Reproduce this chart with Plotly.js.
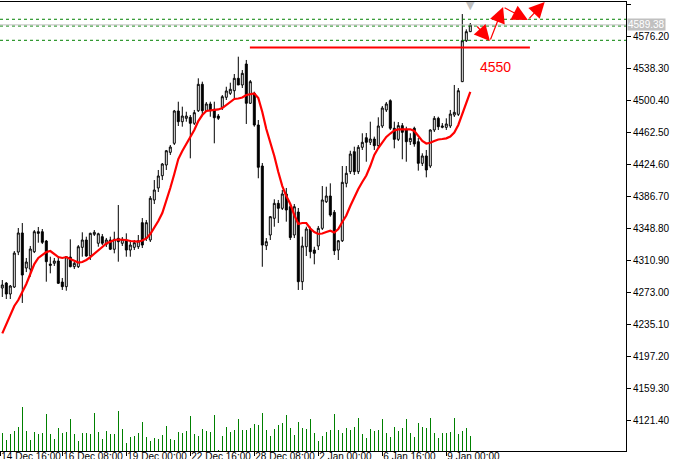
<!DOCTYPE html>
<html>
<head>
<meta charset="utf-8">
<script src="https://cdn.plot.ly/plotly-3.0.1.min.js"></script>
<style>html,body{margin:0;padding:0;background:#fff;}#chart{width:679px;height:459px;}</style>
</head>
<body>
<div id="chart"></div>
<script>
const openP = [
4277.7,4283.6,4270.6,4278.9,4320.3,4342.9,4301.4,4300.2,4320.7,4344.4,
4344.4,4333.4,4306.1,4307.0,4309.7,4284.8,4279.3,4314.4,4303.0,4303.0,
4325.9,4334.6,4316.0,4341.3,4330.7,4338.5,4329.5,4334.6,4323.6,4336.6,
4330.7,4334.6,4322.7,4325.9,4326.6,4355.1,4336.6,4334.6,4382.0,4396.2,
4410.7,4423.4,4438.4,4449.1,4487.4,4474.7,4478.7,4479.9,4472.8,4487.7,
4519.0,4487.7,4495.7,4489.4,4481.4,4491.8,4503.6,4508.3,4511.4,4526.1,
4518.2,4543.0,4496.5,4508.3,4470.8,4422.2,4327.8,4340.5,4360.3,4378.0,
4372.1,4389.1,4374.0,4340.5,4367.7,4285.2,4326.6,4347.6,4322.7,4327.5,
4348.4,4379.9,4386.7,4367.4,4322.7,4333.7,4401.7,4415.5,4439.2,4415.5,
4444.4,4455.7,4450.3,4454.2,4446.3,4469.6,4488.6,4499.6,4466.9,4453.8,
4470.0,4464.9,4451.0,4466.9,4451.0,4425.4,4434.1,4422.2,4464.9,4478.7,
4468.0,4468.0,4469.6,4482.6,4483.4,4522.1,4570.6,4581.3];
const highP = [
4287.2,4284.8,4281.3,4321.5,4348.8,4354.7,4313.3,4327.5,4346.4,4350.0,
4347.6,4334.6,4314.8,4313.3,4315.6,4289.6,4315.6,4335.4,4308.5,4328.6,
4343.7,4338.5,4343.2,4346.4,4343.2,4341.7,4337.0,4338.5,4344.4,4376.0,
4338.1,4342.5,4334.6,4334.6,4340.5,4360.6,4358.3,4386.7,4405.6,4417.5,
4425.8,4441.2,4447.1,4488.6,4498.4,4492.5,4486.5,4482.6,4488.6,4526.1,
4522.1,4498.0,4498.4,4498.4,4483.8,4506.3,4516.1,4520.9,4531.2,4551.7,
4535.9,4547.8,4524.1,4510.2,4476.7,4425.8,4336.9,4363.0,4382.8,4382.0,
4393.8,4396.2,4377.2,4377.2,4372.5,4338.5,4350.3,4350.3,4326.6,4351.2,
4398.5,4397.7,4401.7,4370.1,4334.6,4422.2,4422.2,4440.3,4445.1,4447.1,
4461.0,4461.3,4474.7,4457.0,4479.9,4493.3,4498.0,4501.2,4474.7,4474.3,
4473.1,4468.8,4461.0,4468.8,4455.4,4437.3,4441.2,4465.7,4481.4,4480.6,
4473.1,4478.7,4488.6,4518.2,4514.6,4602.2,4584.1,4591.6];
const lowP = [
4267.1,4264.7,4264.7,4277.7,4316.7,4260.0,4296.6,4291.1,4319.1,4331.4,
4329.8,4285.2,4295.1,4303.8,4282.5,4275.4,4274.5,4302.2,4300.2,4301.4,
4314.8,4314.8,4310.9,4339.3,4326.6,4328.6,4326.3,4322.7,4318.8,4308.9,
4327.5,4314.8,4314.8,4322.7,4323.9,4325.1,4333.4,4332.2,4377.2,4391.4,
4405.6,4417.5,4435.3,4447.1,4469.6,4468.8,4474.7,4431.3,4470.8,4486.2,
4481.4,4486.2,4480.6,4449.1,4476.7,4488.6,4500.4,4506.3,4502.4,4518.2,
4514.6,4472.0,4495.7,4468.8,4407.7,4302.9,4322.7,4334.6,4350.3,4354.7,
4370.1,4356.3,4334.6,4336.9,4275.4,4275.4,4315.6,4312.9,4305.8,4322.7,
4346.4,4378.4,4362.2,4316.8,4310.9,4332.2,4397.0,4412.7,4411.6,4412.7,
4441.2,4427.3,4447.1,4441.2,4443.5,4467.2,4486.2,4464.9,4443.2,4451.8,
4430.2,4427.3,4447.1,4445.1,4416.7,4422.2,4408.8,4419.9,4462.5,4464.9,
4466.9,4464.9,4467.2,4480.3,4481.4,4521.7,4569.1,4580.9];
const closeP = [
4281.3,4270.6,4280.1,4319.1,4342.9,4293.1,4308.5,4323.9,4344.4,4342.5,
4331.8,4308.9,4304.6,4309.7,4283.3,4279.3,4314.8,4303.0,4307.0,4326.6,
4334.6,4315.6,4342.5,4343.7,4342.0,4330.7,4334.6,4323.6,4335.4,4332.6,
4335.4,4322.7,4328.6,4331.4,4333.7,4328.6,4355.1,4384.0,4393.8,4410.4,
4424.6,4440.3,4444.7,4487.4,4474.7,4481.4,4481.4,4472.8,4485.4,4519.0,
4487.7,4495.7,4487.7,4479.4,4478.7,4504.3,4511.1,4513.1,4526.1,4518.2,
4532.0,4496.5,4522.1,4470.8,4420.7,4328.6,4332.6,4362.2,4378.0,4372.1,
4389.1,4370.1,4337.5,4374.0,4285.2,4327.5,4347.6,4320.7,4318.8,4348.4,
4382.0,4386.7,4364.2,4321.9,4333.7,4402.9,4413.6,4436.4,4415.5,4444.4,
4450.3,4450.3,4454.2,4446.3,4469.6,4490.9,4495.7,4466.9,4453.8,4470.0,
4462.1,4451.0,4455.0,4448.3,4425.4,4434.1,4417.5,4464.9,4478.7,4468.8,
4469.6,4472.0,4483.8,4485.8,4511.4,4570.6,4581.3,4589.38];
const maP = [
4224.0,4235.0,4246.0,4256.4,4263.5,4273.0,4282.5,4294.3,4306.1,4313.3,
4316.8,4320.3,4321.5,4318.0,4314.4,4313.3,4314.4,4312.1,4309.7,4307.9,
4308.5,4310.9,4314.4,4318.0,4322.7,4326.3,4330.4,4332.8,4334.6,4335.2,
4335.2,4334.6,4333.4,4332.6,4332.6,4334.0,4336.4,4341.7,4348.8,4357.1,
4366.6,4380.8,4396.2,4412.8,4430.5,4440.0,4448.3,4455.4,4464.9,4475.5,
4482.6,4487.4,4488.0,4488.6,4489.2,4490.9,4494.5,4498.0,4501.6,4502.2,
4503.4,4506.3,4507.5,4508.1,4502.8,4486.2,4466.1,4450.6,4434.1,4415.1,
4398.5,4386.7,4377.2,4364.2,4353.5,4354.7,4354.7,4348.2,4344.0,4341.7,
4342.3,4344.0,4345.6,4343.5,4347.6,4355.9,4363.6,4374.9,4385.5,4395.0,
4403.3,4411.0,4422.2,4435.3,4443.5,4450.6,4456.6,4460.7,4464.3,4465.5,
4465.7,4465.7,4465.7,4463.7,4457.8,4451.8,4448.9,4449.8,4451.8,4453.6,
4454.2,4455.0,4457.2,4461.9,4470.8,4483.8,4496.8,4509.9];
const volume = [
5400,3300,5100,6000,7200,13200,6000,3300,5700,5100,
5400,11100,5100,3600,6900,5400,5700,9600,5100,3000,
5400,5400,5100,11400,5700,3600,6000,5100,5100,12000,
6600,2400,4200,4500,5400,8700,4200,3000,3900,3600,
4800,7500,3600,3300,5700,5400,6000,10500,5100,4500,
6600,6000,5700,10800,300,4500,7200,5700,6300,9600,
6300,6300,6900,8100,7800,11400,6300,4500,6600,7800,
8400,10800,6900,4800,8700,6900,6600,9600,5400,3000,
4500,5700,6300,11100,6300,5400,6900,6300,7200,9900,
5100,3900,6600,6000,6300,9600,5400,4200,7200,6000,
6900,9600,5400,4200,8400,7200,6900,9900,5400,3900,
5400,5400,5700,9900,5100,6000,6900,4500];
const yTickVals = [4614.10,4576.20,4538.30,4500.40,4462.50,4424.60,4386.70,4348.80,4310.90,4273.00,4235.10,4197.20,4159.30,4121.40];
const xTickIdx = [-0.5,15,31,47,63,79,95,111];
const xTickLabels = ["14 Dec 16:00","16 Dec 08:00","19 Dec 00:00","22 Dec 16:00","28 Dec 08:00","2 Jan 00:00","6 Jan 16:00","9 Jan 00:00"];
const greenLevels = [4596.0, 4588.0, 4571.1];
const bidPrice = 4589.38;
const redLevel = 4562.6, redLevelFrom = 61.9, redLevelTo = 131.9;
const levelLabel = "4550", levelLabelAt = [123.4, 4539.5];
const pathIdx = [118.4, 121.9, 125.2, 131.4, 135.6];
const pathPrice = [4589.2, 4570.3, 4610.5, 4595.2, 4616.5];

const idx = closeP.map((_, i) => i);
const FONT = "Liberation Sans, Arial, sans-serif";

const traces = [
  {type:'bar', x: idx, y: volume, yaxis:'y2', width:0.25, marker:{color:'#008000', line:{width:0}}, hoverinfo:'skip'},
  {type:'candlestick', x: idx, open: openP, high: highP, low: lowP, close: closeP,
   increasing:{line:{color:'#000', width:1}, fillcolor:'#fff'},
   decreasing:{line:{color:'#000', width:1}, fillcolor:'#000'},
   whiskerwidth:0, hoverinfo:'skip'},
  {type:'scatter', mode:'lines', x: idx, y: maP, line:{color:'#ff0000', width:2.2}, hoverinfo:'skip'}
];

const shapes = greenLevels.map(v => ({type:'line', xref:'paper', x0:0, x1:1, yref:'y', y0:v, y1:v, line:{color:'#008000', width:1, dash:'3px,3px'}}));
shapes.push({type:'line', xref:'paper', x0:0, x1:1, yref:'y', y0:bidPrice, y1:bidPrice, line:{color:'#c0c0c0', width:1}});
shapes.push({type:'line', xref:'x', x0:redLevelFrom, x1:redLevelTo, yref:'y', y0:redLevel, y1:redLevel, line:{color:'#ff0000', width:2}});

const annotations = [
  {xref:'paper', x:1, xanchor:'left', yref:'y', y:bidPrice, text:bidPrice.toFixed(2), showarrow:false,
   bgcolor:'#c0c0c0', font:{color:'#fff', size:10, family:FONT}, borderpad:0, xshift:1},
  {xref:'x', yref:'y', x:levelLabelAt[0], y:levelLabelAt[1], text:levelLabel, showarrow:false,
   font:{color:'#ff0000', size:14, family:FONT}},
  {xref:'x', yref:'y', x:117, y:4612.5, text:'▼', showarrow:false, font:{color:'#c0c0c0', size:11, family:'DejaVu Sans'}}
];
for (let k = 1; k < pathIdx.length; k++) {
  annotations.push({xref:'x', yref:'y', axref:'x', ayref:'y', x:pathIdx[k], y:pathPrice[k], ax:pathIdx[k-1], ay:pathPrice[k-1],
    text:'', showarrow:true, arrowhead:2, arrowsize:2.6, arrowwidth:1.2, arrowcolor:'#ff0000', standoff:0, startstandoff:0});
}

const layout = {
  width:679, height:459,
  margin:{l:0, r:53, t:2, b:8, pad:0},
  paper_bgcolor:'#fff', plot_bgcolor:'#fff',
  showlegend:false, hovermode:false,
  font:{family:FONT, size:10, color:'#000'},
  xaxis:{type:'linear', range:[-0.575, 155.925], rangeslider:{visible:false},
    showgrid:false, zeroline:false, showline:true, mirror:true, linecolor:'#000', linewidth:1,
    tickmode:'array', tickvals:xTickIdx, ticktext:xTickLabels, ticks:'outside', ticklen:4, tickcolor:'#000',
    tickangle:0, ticklabelposition:'outside right', ticklabelstandoff:-4, ticklabeloverflow:'allow',
    tickfont:{size:10, family:FONT}, fixedrange:true},
  yaxis:{side:'right', range:[4084.68, 4616.47], showgrid:false, zeroline:false,
    showline:true, linecolor:'#000', linewidth:1, mirror:false,
    tickmode:'array', tickvals:yTickVals, ticktext:yTickVals.map(v => v.toFixed(2)),
    ticks:'outside', ticklen:4, tickcolor:'#000', tickfont:{size:10, family:FONT}, fixedrange:true},
  yaxis2:{overlaying:'y', side:'right', range:[0, 134700], visible:false, fixedrange:true},
  bargap:0,
  shapes: shapes,
  annotations: annotations
};

Plotly.newPlot('chart', traces, layout, {displayModeBar:false, staticPlot:true});
</script>
</body>
</html>
